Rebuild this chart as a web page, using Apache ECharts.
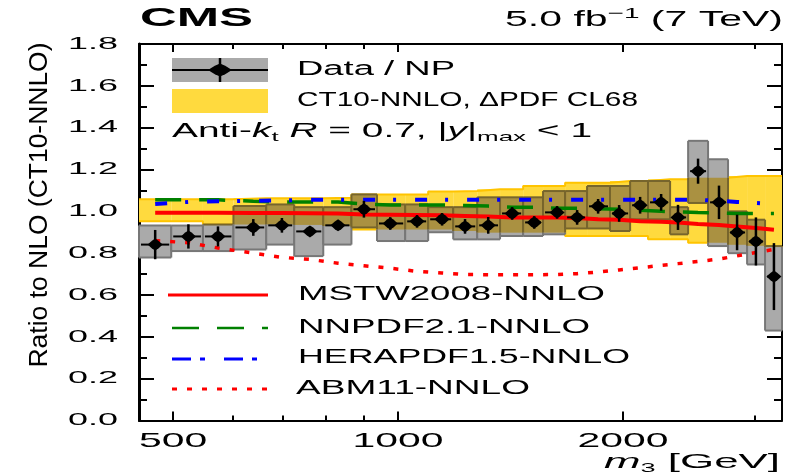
<!DOCTYPE html>
<html><head><meta charset="utf-8">
<script src="https://cdn.jsdelivr.net/npm/echarts@6/dist/echarts.min.js"></script>
<style>html,body{margin:0;padding:0;background:#fff}#c{width:786px;height:476px}</style>
</head><body><div id="c"></div>
<script>
// ---------------- data ----------------
const binEdges = [450, 497, 548, 602, 666, 726, 794, 866, 937, 1022, 1097, 1185, 1276, 1369, 1470, 1563, 1673, 1790, 1921, 2044, 2160, 2312, 2444, 2599, 2764, 2931, 3098, 3264];
const massCenters = [473, 524, 574, 640, 699, 762, 831, 900, 976, 1060, 1145, 1229, 1320, 1421, 1521, 1632, 1736, 1852, 1976, 2108, 2249, 2369, 2520, 2688, 2842, 3012, 3184];
const dataRatio = [0.841, 0.880, 0.880, 0.923, 0.933, 0.904, 0.933, 1.010, 0.942, 0.952, 0.962, 0.928, 0.933, 0.990, 0.947, 0.995, 0.971, 1.024, 0.990, 1.029, 1.043, 0.971, 1.192, 1.043, 0.899, 0.856, 0.688];
const statErr = [0.07, 0.058, 0.048, 0.04, 0.035, 0.018, 0.02, 0.04, 0.03, 0.03, 0.03, 0.035, 0.04, 0.03, 0.03, 0.03, 0.035, 0.035, 0.04, 0.04, 0.04, 0.06, 0.06, 0.08, 0.085, 0.115, 0.16];
const systHigh = [0.932, 0.932, 0.937, 1.025, 1.033, 1.02, 1.02, 1.081, 1.033, 1.033, 1.02, 1.02, 1.067, 1.067, 1.067, 1.097, 1.097, 1.121, 1.121, 1.145, 1.145, 1.02, 1.337, 1.249, 1.0, 0.96, 0.834];
const systLow = [0.779, 0.81, 0.81, 0.818, 0.841, 0.786, 0.841, 0.923, 0.858, 0.858, 0.90, 0.866, 0.866, 0.882, 0.882, 0.89, 0.918, 0.918, 0.906, 0.962, 0.962, 0.89, 1.04, 0.834, 0.80, 0.746, 0.43];
const ct10High = [1.058, 1.058, 1.058, 1.062, 1.062, 1.062, 1.065, 1.081, 1.081, 1.081, 1.095, 1.097, 1.105, 1.105, 1.121, 1.121, 1.137, 1.137, 1.145, 1.145, 1.153, 1.153, 1.161, 1.161, 1.169, 1.169, 1.169];
const ct10Low = [0.953, 0.953, 0.937, 0.937, 0.937, 0.935, 0.93, 0.913, 0.913, 0.913, 0.913, 0.906, 0.898, 0.898, 0.898, 0.898, 0.882, 0.882, 0.882, 0.882, 0.866, 0.866, 0.85, 0.85, 0.84, 0.835, 0.83];
const mstw = [0.993, 0.993, 0.993, 0.992, 0.992, 0.991, 0.99, 0.985, 0.984, 0.983, 0.981, 0.978, 0.975, 0.971, 0.97, 0.97, 0.968, 0.962, 0.96, 0.953, 0.95, 0.947, 0.94, 0.935, 0.928, 0.92, 0.912];
const nnpdf = [1.055, 1.055, 1.055, 1.048, 1.045, 1.045, 1.045, 1.035, 1.03, 1.03, 1.03, 1.028, 1.025, 1.02, 1.02, 1.015, 1.015, 1.012, 1.01, 1.005, 1.0, 0.998, 0.995, 0.992, 0.99, 0.99, 0.99];
const herapdf = [1.035, 1.045, 1.048, 1.05, 1.052, 1.055, 1.055, 1.055, 1.055, 1.055, 1.055, 1.055, 1.055, 1.055, 1.055, 1.055, 1.055, 1.055, 1.055, 1.055, 1.055, 1.055, 1.055, 1.05, 1.045, 1.04, 1.035];
const abm = [0.86, 0.85, 0.825, 0.80, 0.78, 0.77, 0.752, 0.74, 0.728, 0.713, 0.705, 0.698, 0.697, 0.697, 0.697, 0.698, 0.702, 0.71, 0.72, 0.73, 0.742, 0.75, 0.76, 0.772, 0.787, 0.803, 0.818];
const yTickValues = [0, 0.2, 0.4, 0.6, 0.8, 1.0, 1.2, 1.4, 1.6, 1.8];
const yTickLabels = ['0.0', '0.2', '0.4', '0.6', '0.8', '1.0', '1.2', '1.4', '1.6', '1.8'];
const xTickValues = [500, 1000, 2000];
const xTickLabels = ['500', '1000', '2000'];
const xMinorTicks = [600, 700, 800, 900, 3000];

// ---------------- helpers ----------------
const X_MIN = 450, X_MAX = 3264, Y_MIN = 0, Y_MAX = 1.8;
const FAM = '"Liberation Sans", Arial, sans-serif';
const mctx = document.createElement('canvas').getContext('2d');
function fontStr(size, bold, italic) { return (italic ? 'italic ' : '') + (bold ? 'bold ' : '') + size + 'px ' + FAM; }
function tw(str, size, bold, italic) { mctx.font = fontStr(size, bold, italic); return mctx.measureText(str).width; }

function richLabel(segs, x, y, targetW, baseSize, opts) {
  opts = opts || {};
  let total = 0;
  const rich = {};
  const parts = segs.map((sg, k) => {
    const size = sg.s || baseSize;
    total += tw(sg.t, size, sg.b, sg.i);
    const st = { fontSize: size, fontFamily: FAM, fontWeight: sg.b ? 'bold' : 'normal', fontStyle: sg.i ? 'italic' : 'normal', fill: '#000' };
    if (sg.v === 'sub') { st.lineHeight = size; st.verticalAlign = 'bottom'; }
    else if (sg.v === 'sup') { st.lineHeight = size; st.verticalAlign = 'top'; }
    else { st.lineHeight = baseSize * 1.25; st.verticalAlign = 'middle'; }
    rich['r' + k] = st;
    return '{r' + k + '|' + sg.t + '}';
  });
  return {
    type: 'text', x: x, y: y, rotation: opts.rotation || 0,
    scaleX: targetW / total, scaleY: 1, silent: true, z: 100,
    style: { text: parts.join(''), rich: rich, fontSize: baseSize, fontFamily: FAM, fill: '#000',
      align: opts.align || 'left', verticalAlign: 'middle' }
  };
}
function plain(t, x, y, w, size, bold, align) {
  return richLabel([{ t: t, b: bold }], x, y, w, size, { align: align });
}
function diamond(cx, cy, hw, hh) {
  return [[cx - hw, cy], [cx - hw * 0.43, cy - hh * 0.66], [cx, cy - hh], [cx + hw * 0.43, cy - hh * 0.66],
          [cx + hw, cy], [cx + hw * 0.43, cy + hh * 0.66], [cx, cy + hh], [cx - hw * 0.43, cy + hh * 0.66]];
}

const YLAB_SIZE = 17, YLAB_SCALE = 50 / tw('1.8', 17);
const XLAB_SIZE = 21, XLAB_SCALE = 91 / tw('1000', 21);

const COL_YEL = '#FFDA3E', COL_YEL_EDGE = '#FFC400';
const COL_BOX = '#aaaaaa', COL_BOX_EDGE = '#777777';
const COL_OVL = '#aa9141', COL_OVL_EDGE = '#77652c';

const chart = echarts.init(document.getElementById('c'));

const axisBase = { type: 'log', logBase: 10, min: X_MIN, max: X_MAX, gridIndex: 0,
  axisLabel: { show: false }, splitLine: { show: false }, minorTick: { show: false }, minorSplitLine: { show: false } };

const legendGraphics = [
  { type: 'rect', shape: { x: 172, y: 58, width: 96, height: 24 }, style: { fill: COL_BOX }, z: 100, silent: true },
  { type: 'line', shape: { x1: 172, y1: 70, x2: 268, y2: 70 }, style: { stroke: '#000', lineWidth: 2 }, z: 101, silent: true },
  { type: 'line', shape: { x1: 220, y1: 58, x2: 220, y2: 82 }, style: { stroke: '#000', lineWidth: 2.5 }, z: 101, silent: true },
  { type: 'polygon', shape: { points: diamond(220, 70, 12, 6.5) }, style: { fill: '#000' }, z: 101, silent: true },
  { type: 'rect', shape: { x: 172, y: 89, width: 96, height: 24 }, style: { fill: COL_YEL }, z: 100, silent: true },
  { type: 'line', shape: { x1: 168, y1: 295, x2: 268, y2: 295 }, style: { stroke: '#ff0000', lineWidth: 3 }, z: 100, silent: true },
  { type: 'line', shape: { x1: 172, y1: 328, x2: 268, y2: 328 }, style: { stroke: '#008000', lineWidth: 2.5, lineDash: [27, 18] }, z: 100, silent: true },
  { type: 'line', shape: { x1: 172, y1: 359, x2: 268, y2: 359 }, style: { stroke: '#0000ff', lineWidth: 3, lineDash: [19, 9, 5, 19] }, z: 100, silent: true },
  { type: 'line', shape: { x1: 172, y1: 389, x2: 268, y2: 389 }, style: { stroke: '#ff0000', lineWidth: 3, lineDash: [5, 10] }, z: 100, silent: true }
];

const LS = 19.5;
const textGraphics = [
  plain('CMS', 140, 19, 113, 26, true),
  richLabel([{ t: '5.0 fb' }, { t: '\u22121', s: 15, v: 'sup' }, { t: ' (7 TeV)' }], 505, 20, 278, 22),
  plain('Data / NP', 297, 70, 158, LS),
  plain('CT10-NNLO, \u0394PDF CL68', 297, 101, 341, LS),
  richLabel([{ t: 'Anti-' }, { t: 'k', i: true }, { t: 't', s: 13, v: 'sub' }, { t: ' ' }, { t: 'R', i: true },
             { t: ' = 0.7, |' }, { t: 'y', i: true }, { t: '|' }, { t: 'max', s: 13, v: 'sub' }, { t: ' < 1' }], 172, 132, 420, LS),
  plain('MSTW2008-NNLO', 298, 295, 307, LS),
  plain('NNPDF2.1-NNLO', 298, 328, 292, LS),
  plain('HERAPDF1.5-NNLO', 298, 358, 332, LS),
  plain('ABM11-NNLO', 296, 389, 234, LS),
  richLabel([{ t: 'm', i: true }, { t: '3', s: 13, v: 'sub' }, { t: ' [GeV]' }], 604, 462, 176, 21),
  richLabel([{ t: 'Ratio to NLO (CT10-NNLO)' }], 40, 205, 325, 25, { rotation: Math.PI / 2, align: 'center' })
];

function seg(x1, y1, x2, y2, color) {
  return { type: 'line', shape: { x1: x1, y1: y1, x2: x2, y2: y2 }, style: { stroke: color, lineWidth: 2 } };
}

const option = {
  animation: false,
  backgroundColor: '#ffffff',
  grid: { left: 139, top: 44, width: 643, height: 376.5, containLabel: false },
  xAxis: [
    Object.assign({}, axisBase, { position: 'bottom',
      axisLine: { show: true, lineStyle: { color: '#000', width: 2 } },
      axisTick: { show: true, inside: true, length: 9, customValues: xTickValues, lineStyle: { color: '#000', width: 2 } } }),
    Object.assign({}, axisBase, { position: 'bottom',
      axisLine: { show: false },
      axisTick: { show: true, inside: true, length: 5, customValues: xMinorTicks, lineStyle: { color: '#000', width: 2 } } }),
    Object.assign({}, axisBase, { position: 'top',
      axisLine: { show: true, lineStyle: { color: '#000', width: 2 } },
      axisTick: { show: true, inside: true, length: 8, customValues: xTickValues, lineStyle: { color: '#000', width: 2 } } }),
    Object.assign({}, axisBase, { position: 'top',
      axisLine: { show: false },
      axisTick: { show: true, inside: true, length: 5, customValues: xMinorTicks, lineStyle: { color: '#000', width: 2 } } })
  ],
  yAxis: [
    { type: 'value', min: Y_MIN, max: Y_MAX, interval: 0.2, position: 'left',
      axisLine: { show: true, lineStyle: { color: '#000', width: 3 } },
      axisTick: { show: true, inside: true, length: 15, lineStyle: { color: '#000', width: 2 } },
      minorTick: { show: true, splitNumber: 2, length: 8, lineStyle: { color: '#000', width: 2 } },
      axisLabel: { show: false }, splitLine: { show: false } },
    { type: 'value', min: Y_MIN, max: Y_MAX, interval: 0.2, position: 'right',
      axisLine: { show: true, lineStyle: { color: '#000', width: 2 } },
      axisTick: { show: true, inside: true, length: 15, lineStyle: { color: '#000', width: 2 } },
      minorTick: { show: true, splitNumber: 2, length: 8, lineStyle: { color: '#000', width: 2 } },
      axisLabel: { show: false }, splitLine: { show: false } }
  ],
  graphic: { elements: legendGraphics.concat(textGraphics) },
  series: [
    { type: 'custom', name: 'CT10', xAxisIndex: 0, yAxisIndex: 0, z: 2, silent: true,
      data: ct10High.map((h, i) => [binEdges[i], binEdges[i + 1], ct10Low[i], h]),
      encode: { x: [0, 1], y: [2, 3] },
      renderItem: (params, api) => {
        const p1 = api.coord([api.value(0), api.value(3)]);
        const p2 = api.coord([api.value(1), api.value(2)]);
        return { type: 'rect', shape: { x: p1[0], y: p1[1], width: p2[0] - p1[0], height: p2[1] - p1[1] },
          style: { fill: COL_YEL } };
      } },
    { type: 'line', xAxisIndex: 0, yAxisIndex: 0, z: 2, silent: true, step: 'end', showSymbol: false,
      data: binEdges.map((e, i) => [e, ct10High[Math.min(i, ct10High.length - 1)]]),
      lineStyle: { color: COL_YEL_EDGE, width: 2 } },
    { type: 'line', xAxisIndex: 0, yAxisIndex: 0, z: 2, silent: true, step: 'end', showSymbol: false,
      data: binEdges.map((e, i) => [e, ct10Low[Math.min(i, ct10Low.length - 1)]]),
      lineStyle: { color: COL_YEL_EDGE, width: 2 } },
    // systematic boxes, with the part overlapping the CT10 band shaded darker
    { type: 'custom', name: 'syst', xAxisIndex: 0, yAxisIndex: 0, z: 3, silent: true,
      data: systHigh.map((h, i) => [binEdges[i], binEdges[i + 1], systLow[i], h, ct10Low[i], ct10High[i]]),
      encode: { x: [0, 1], y: [2, 3] },
      renderItem: (params, api) => {
        const p1 = api.coord([api.value(0), api.value(3)]);
        const p2 = api.coord([api.value(1), api.value(2)]);
        const bTop = api.coord([api.value(0), api.value(5)])[1];
        const bBot = api.coord([api.value(0), api.value(4)])[1];
        const x0 = p1[0], x1 = p2[0], yT = p1[1], yB = p2[1];
        const oT = Math.max(yT, bTop), oB = Math.min(yB, bBot);
        const inside = y => y >= bTop && y <= bBot;
        const kids = [{ type: 'rect', shape: { x: x0, y: yT, width: x1 - x0, height: yB - yT }, style: { fill: COL_BOX } }];
        if (oT < oB) kids.push({ type: 'rect', shape: { x: x0, y: oT, width: x1 - x0, height: oB - oT }, style: { fill: COL_OVL } });
        kids.push(seg(x0, yT, x1, yT, inside(yT) ? COL_OVL_EDGE : COL_BOX_EDGE));
        kids.push(seg(x0, yB, x1, yB, inside(yB) ? COL_OVL_EDGE : COL_BOX_EDGE));
        // vertical edges split at band limits
        const cuts = [yT, yB];
        if (bTop > yT && bTop < yB) cuts.push(bTop);
        if (bBot > yT && bBot < yB) cuts.push(bBot);
        cuts.sort((a, b) => a - b);
        for (let k = 0; k < cuts.length - 1; k++) {
          const mid = (cuts[k] + cuts[k + 1]) / 2;
          const col = inside(mid) ? COL_OVL_EDGE : COL_BOX_EDGE;
          kids.push(seg(x0, cuts[k], x0, cuts[k + 1], col));
          kids.push(seg(x1, cuts[k], x1, cuts[k + 1], col));
        }
        return { type: 'group', children: kids };
      } },
    { type: 'line', name: 'MSTW2008-NNLO', xAxisIndex: 0, yAxisIndex: 0, z: 4, silent: true, showSymbol: false,
      data: massCenters.map((m, i) => [m, mstw[i]]), lineStyle: { color: '#ff0000', width: 4 } },
    { type: 'line', name: 'NNPDF2.1-NNLO', xAxisIndex: 0, yAxisIndex: 0, z: 4, silent: true, showSymbol: false,
      data: massCenters.map((m, i) => [m, nnpdf[i]]), lineStyle: { color: '#008000', width: 3.5, type: [26, 18], cap: 'butt' } },
    { type: 'line', name: 'HERAPDF1.5-NNLO', xAxisIndex: 0, yAxisIndex: 0, z: 4, silent: true, showSymbol: false,
      data: massCenters.map((m, i) => [m, herapdf[i]]), lineStyle: { color: '#0000ff', width: 4, type: [12, 18, 3, 19], cap: 'butt' } },
    { type: 'line', name: 'ABM11-NNLO', xAxisIndex: 0, yAxisIndex: 0, z: 4, silent: true, showSymbol: false,
      data: massCenters.map((m, i) => [m, abm[i]]), lineStyle: { color: '#ff0000', width: 3.5, type: [5, 10], cap: 'butt' } },
    { type: 'custom', name: 'Data / NP', xAxisIndex: 0, yAxisIndex: 0, z: 6, silent: true,
      data: massCenters.map((m, i) => [m, dataRatio[i], statErr[i], binEdges[i], binEdges[i + 1]]),
      encode: { x: 0, y: 1 },
      renderItem: (params, api) => {
        const c = api.coord([api.value(0), api.value(1)]);
        const top = api.coord([api.value(0), api.value(1) + api.value(2)]);
        const bot = api.coord([api.value(0), api.value(1) - api.value(2)]);
        const l = api.coord([api.value(3), api.value(1)]);
        const r = api.coord([api.value(4), api.value(1)]);
        return { type: 'group', children: [
          { type: 'line', shape: { x1: l[0] + 2, y1: c[1], x2: r[0] - 2, y2: c[1] }, style: { stroke: '#000', lineWidth: 2 } },
          { type: 'line', shape: { x1: c[0], y1: top[1], x2: c[0], y2: bot[1] }, style: { stroke: '#000', lineWidth: 2.5 } },
          { type: 'polygon', shape: { points: diamond(c[0], c[1], 7.5, 6) }, style: { fill: '#000' } }
        ] };
      } },
    { type: 'custom', xAxisIndex: 0, yAxisIndex: 0, z: 10, silent: true, clip: false,
      data: yTickValues.map(v => [X_MIN, v]), encode: { x: 0, y: 1 },
      renderItem: (params, api) => {
        const p = api.coord([X_MIN, api.value(1)]);
        return { type: 'text', x: p[0] - 21, y: p[1], scaleX: YLAB_SCALE,
          style: { text: yTickLabels[params.dataIndex], fontSize: YLAB_SIZE, fontFamily: FAM, fill: '#000', align: 'right', verticalAlign: 'middle' } };
      } },
    { type: 'custom', xAxisIndex: 0, yAxisIndex: 0, z: 10, silent: true, clip: false,
      data: xTickValues.map(v => [v, Y_MIN]), encode: { x: 0, y: 1 },
      renderItem: (params, api) => {
        const p = api.coord([api.value(0), Y_MIN]);
        return { type: 'text', x: p[0], y: p[1] + 21, scaleX: XLAB_SCALE,
          style: { text: xTickLabels[params.dataIndex], fontSize: XLAB_SIZE, fontFamily: FAM, fill: '#000', align: 'center', verticalAlign: 'middle' } };
      } }
  ]
};
chart.setOption(option);
</script>
</body></html>
